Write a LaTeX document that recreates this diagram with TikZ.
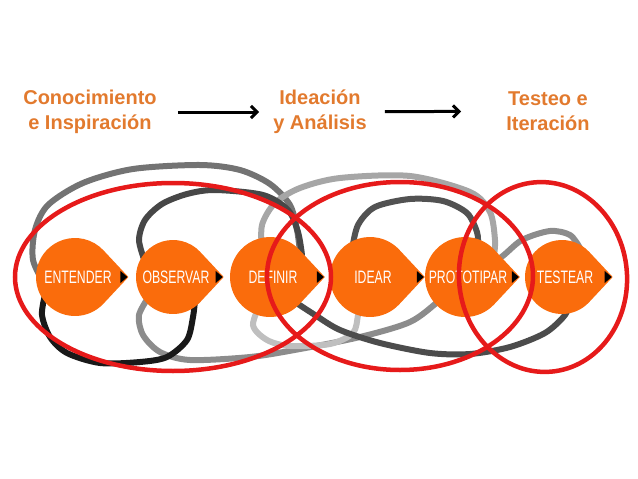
\documentclass[tikz,border=0pt]{standalone}
\usepackage{fontspec}
\setmainfont{Liberation Sans}
\newfontfamily\dropfont[FakeStretch=0.68]{Liberation Sans}
\usetikzlibrary{arrows.meta}
\definecolor{headorange}{RGB}{226,122,46}
\definecolor{droporange}{RGB}{250,108,12}
\definecolor{ringred}{RGB}{230,26,26}
\newcommand{\drip}[2]{\fill[droporange] (#1,277) ++(43:#2) arc[start angle=43,end angle=317,radius=#2] -- (#1+1.37*#2,277) -- cycle;
\fill[black] (#1+1.37*#2-8,271) -- (#1+1.37*#2-1,277) -- (#1+1.37*#2-8,283) -- cycle;}

\begin{document}
\begin{tikzpicture}[x=1pt,y=-1pt,
  head/.style={font=\fontsize{20}{25}\selectfont\bfseries, text=headorange, align=center, inner sep=0pt},
  flow/.style={-{Straight Barb[length=6pt,width=12pt]}, line width=3pt},
  droptext/.style={font=\dropfont\fontsize{18}{18}\selectfont, text=white, inner sep=0pt},
  band/.style={line width=6pt, line cap=round},
  ring/.style={draw=ringred, line width=4.5pt}]
\useasboundingbox (0,0) rectangle (638,479);
\draw[band, black!55] plot[smooth] coordinates {(45,285) (33,260) (35,230) (48,205) (83,183) (133,169) (200,165) (240,170) (270,184) (290,205) (297,230) (300,252)};
\draw[band, black!35] plot[smooth] coordinates {(262,252) (262,225) (275,203) (300,188) (340,178) (410,176) (470,192) (490,212) (495,240) (494,255)};
\draw[band, black!72] plot[smooth] coordinates {(145,262) (139,240) (145,220) (162,204) (187,194) (215,190) (263,195) (288,210) (298,232) (302,255)};
\draw[band, black!45] plot[smooth] coordinates {(150,295) (139,315) (143,335) (160,352) (190,360) (250,357) (300,349) (360,337) (410,322) (440,300) (470,275) (500,258) (522,240) (550,231) (570,235) (580,248)};
\draw[band, black!90] plot[smooth] coordinates {(45,295) (42,315) (50,337) (67,353) (100,363) (140,362) (167,357) (187,340) (193,317) (195,300)};
\draw[band, black!25] plot[smooth] coordinates {(262,300) (253,325) (267,340) (290,346) (330,344) (353,333) (358,315) (360,300)};
\draw[band, black!68] plot[smooth] coordinates {(352,250) (358,225) (375,207) (410,199) (443,201) (467,213) (477,232) (478,245)};
\draw[band, black!70] plot[smooth] coordinates {(292,300) (315,315) (340,330) (380,343) (430,353) (470,354) (510,347) (545,333) (565,315) (570,300)};
\drip{75}{39}
\drip{173}{37}
\drip{270}{40}
\drip{370}{40}
\drip{465}{40}
\drip{562}{37}
\node[droptext] (ent) at (78,277) {ENTENDER};
\node[droptext] (obs) at (176,277) {OBSERVAR};
\node[droptext] (def) at (273,277) {DEFINIR};
\node[droptext] (ide) at (373,277) {IDEAR};
\node[droptext] (pro) at (468,277) {PROTOTIPAR};
\node[droptext] (tes) at (565,277) {TESTEAR};
\draw[ring] (173,277) ellipse [x radius=158, y radius=94];
\draw[ring] (400,276) ellipse [x radius=133, y radius=94];
\draw[ring, rotate around={5:(543,277)}] (543,277) ellipse [x radius=84, y radius=95];
\node[head] (know) at (90,112) {Conocimiento\\e Inspiración};
\node[head] (idea) at (320,112) {Ideación\\y Análisis};
\node[head] (test) at (548,111) {Testeo e\\Iteración};
\draw[flow, shorten <=21pt, shorten >=14pt] (know) -- (idea);
\draw[flow, shorten <=18pt, shorten >=45pt] (idea) -- (test);
\end{tikzpicture}
\end{document}
